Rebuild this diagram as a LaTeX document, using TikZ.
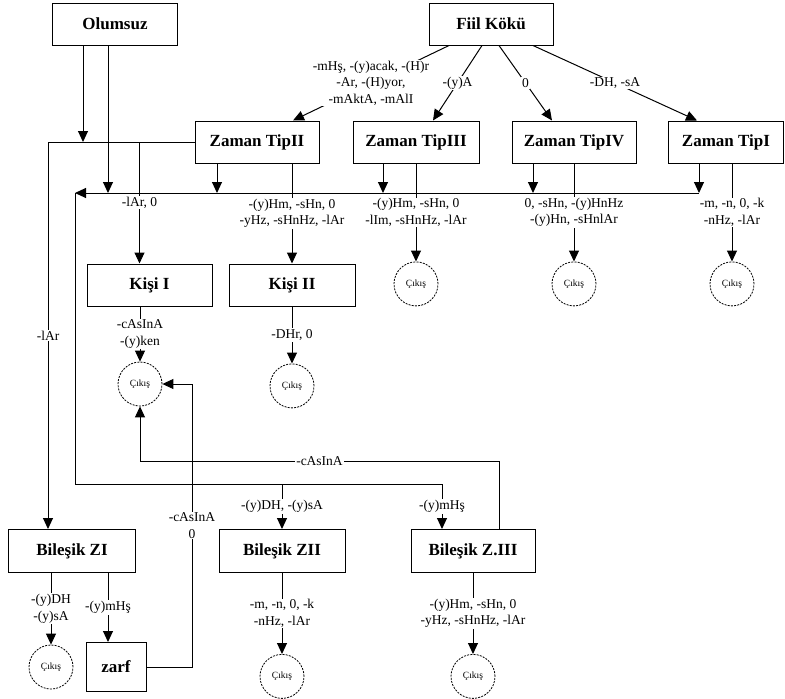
\documentclass[tikz,border=0pt]{standalone}
\usepackage{fontspec}
\setmainfont{Liberation Serif}
\usepackage{tikz}
\usetikzlibrary{arrows.meta,positioning}
\tikzset{
  tbox/.style={rectangle,draw,line width=1pt,minimum width=#1,minimum height=42pt,
               inner sep=2pt,font=\bfseries\fontsize{17}{19}\selectfont},
  tbox/.default=125pt,
  cikis/.style={circle,draw,line width=0.8pt,dash pattern=on 2pt off 1.2pt,
                minimum size=44pt,inner sep=0pt,font=\fontsize{9.5}{10}\selectfont},
  lbl/.style={fill=white,inner sep=1pt,align=center,font=\fontsize{13.5}{16.5}\selectfont},
  arr/.style={-{Triangle[length=11pt,width=10pt]},line width=1pt},
}

\begin{document}
\begin{tikzpicture}[x=1pt,y=-1pt]
  \useasboundingbox (0,0) rectangle (785,699);

  % --- kökler ---
  \node[tbox] (olm) at (115,24) {Olumsuz};
  \node[tbox=124pt] (fiil) at (491,24) {Fiil Kökü};

  % --- zaman tipleri ---
  \node[tbox=124pt] (zt2) at (257,142) {Zaman TipII};
  \node[tbox=126pt] (zt3) at (416,142) {Zaman TipIII};
  \node[tbox=124pt] (zt4) at (574,142) {Zaman TipIV};
  \node[tbox=115pt] (zt1) at (726,142) {Zaman TipI};

  \draw[arr] ([xshift=-42pt]fiil.south) -- node[lbl]{-mHş, -(y)acak, -(H)r\\-Ar, -(H)yor,\\-mAktA, -mAlI} ([xshift=36pt]zt2.north);
  \draw[arr] ([xshift=-9pt]fiil.south) -- node[lbl]{-(y)A} ([xshift=17pt]zt3.north);
  \draw[arr] ([xshift=8pt]fiil.south) -- node[lbl]{0} ([xshift=-22pt]zt4.north);
  \draw[arr] ([xshift=42pt]fiil.south) -- node[lbl]{-DH, -sA} ([xshift=-29pt]zt1.north);

  % --- kişi ekleri ve çıkışlar ---
  \node[tbox=126pt, below=100pt of zt2, xshift=35pt] (k2) {Kişi II};
  \node[tbox, left=16pt of k2] (k1) {Kişi I};
  \node[cikis, below=57pt of k2] (ck2) {Çıkış};
  \node[cikis] (ck1) at (140,384) {Çıkış};
  \node[cikis, below=98pt of zt3] (c3) {Çıkış};
  \node[cikis, below=98pt of zt4] (c4) {Çıkış};
  \node[cikis, below=98pt of zt1, xshift=6pt] (c1) {Çıkış};

  % --- ortak hat ---
  \coordinate (busL) at (75,193);
  \coordinate (busR) at (699,193);
  \draw[arr] (busR) -- (busL);

  \draw[arr] ([xshift=-32pt]olm.south) -- ([xshift=-32pt]olm.south |- zt2.west);
  \draw[arr] ([xshift=-7pt]olm.south) -- ([xshift=-7pt]olm.south |- busL);
  \draw[arr] ([xshift=-40pt]zt2.south) -- ([xshift=-40pt]zt2.south |- busL);
  \draw[arr] ([xshift=-33pt]zt3.south) -- ([xshift=-33pt]zt3.south |- busL);
  \draw[arr] ([xshift=-41pt]zt4.south) -- ([xshift=-41pt]zt4.south |- busL);
  \draw[arr] ([xshift=-27pt]zt1.south) -- (busR);

  \draw[arr] ([xshift=35pt]zt2.south) -- node[lbl]{-(y)Hm, -sHn, 0\\-yHz, -sHnHz, -lAr} (k2);
  \draw[arr] (zt3) -- node[lbl]{-(y)Hm, -sHn, 0\\-lIm, -sHnHz, -lAr} (c3);
  \draw[arr] (zt4) -- node[lbl]{0, -sHn, -(y)HnHz\\-(y)Hn, -sHnlAr} (c4);
  \draw[arr] ([xshift=6pt]zt1.south) -- node[lbl]{-m, -n, 0, -k\\-nHz, -lAr} (c1);

  \draw[arr] ([xshift=-10pt]k1.north |- zt2.west) -- node[lbl]{-lAr, 0} ([xshift=-10pt]k1.north);
  \draw[arr] (k1.south -| ck1) -- node[lbl]{-cAsInA\\-(y)ken} (ck1);
  \draw[arr] (k2) -- node[lbl]{-DHr, 0} (ck2);

  % --- bileşik zamanlar ---
  \node[tbox=127pt, minimum height=43pt] (b1) at (72,551) {Bileşik ZI};
  \node[tbox=126pt, minimum height=43pt] (b2) at (282,551) {Bileşik ZII};
  \node[tbox=124pt, minimum height=43pt] (b3) at (473,551) {Bileşik Z.III};
  \node[tbox=60pt, minimum height=49pt] (zarf) at (116,667) {zarf};
  \node[cikis] (cb1) at (51,667) {Çıkış};
  \node[cikis, below=81pt of b2] (cb2) {Çıkış};
  \node[cikis, below=81pt of b3] (cb3) {Çıkış};

  \draw[arr] (zt2.west) -| node[lbl, pos=0.75]{-lAr} ([xshift=-24pt]b1.north);

  \coordinate (bend) at (442,484);
  \draw[arr] (busL) |- (bend) -- node[lbl]{-(y)mHş} ([xshift=-31pt]b3.north);
  \draw[arr] (b2.north |- bend) -- node[lbl]{-(y)DH, -(y)sA} (b2.north);

  \coordinate (loop) at (140,461);
  \draw[arr] ([xshift=26pt]b3.north) |- node[lbl, pos=0.75]{-cAsInA} (loop) -- (ck1.south);

  \coordinate (zup) at (192,384);
  \draw[arr] (zarf.east) -| node[lbl, pos=0.75]{-cAsInA\\0} (zup) -- (ck1.east);

  \draw[arr] ([xshift=-21pt]b1.south) -- node[lbl]{-(y)DH\\-(y)sA} (cb1);
  \draw[arr] ([xshift=36pt]b1.south) -- node[lbl]{-(y)mHş} ([xshift=36pt]b1.south |- zarf.north);
  \draw[arr] (b2) -- node[lbl]{-m, -n, 0, -k\\-nHz, -lAr} (cb2);
  \draw[arr] (b3) -- node[lbl]{-(y)Hm, -sHn, 0\\-yHz, -sHnHz, -lAr} (cb3);
\end{tikzpicture}
\end{document}
